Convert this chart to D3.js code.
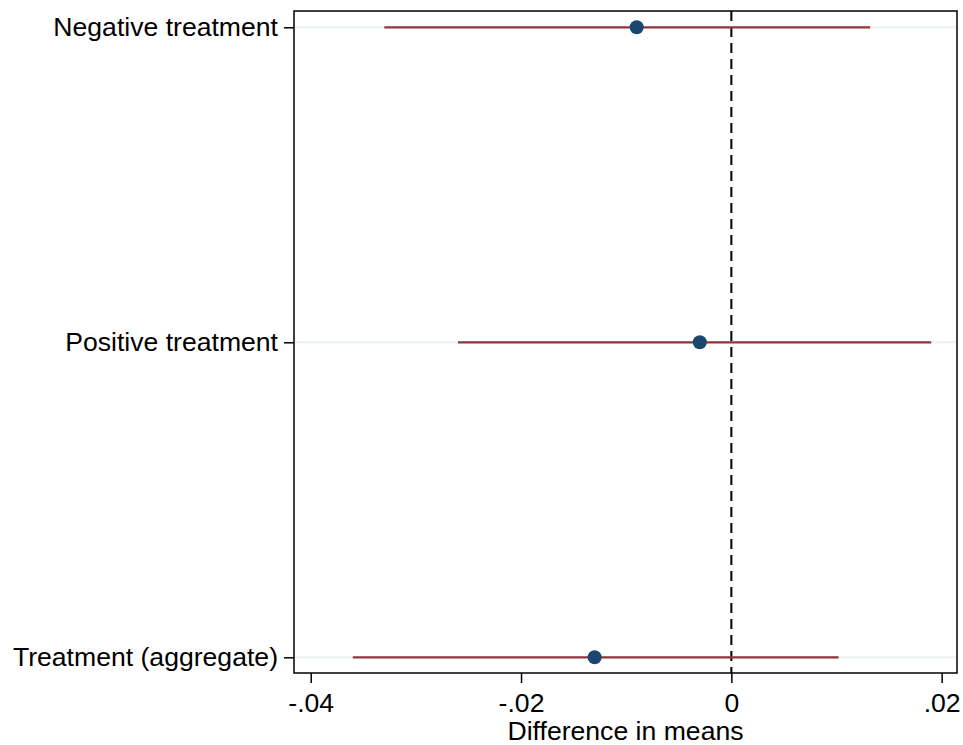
<!DOCTYPE html>
<html>
<head>
<meta charset="utf-8">
<script src="https://cdn.jsdelivr.net/npm/d3@7"></script>
<style>
  body { margin: 0; background: #fff; }
  text { font-family: "Liberation Sans", Arial, sans-serif; }
</style>
</head>
<body>
<script>
// categories and estimates, top to bottom
var categories = ["Negative treatment", "Positive treatment", "Treatment (aggregate)"];
var estimates = [-0.009, -0.003, -0.013];
var ciLow = [-0.033, -0.026, -0.036];
var ciHigh = [0.0132, 0.019, 0.0102];
var xTicks = [-0.04, -0.02, 0, 0.02];
var xTickLabels = ["-.04", "-.02", "0", ".02"];

var width = 963, height = 745;
var plot = {left: 294, right: 957, top: 11, bottom: 673};
var fontSize = 26.6;

var svg = d3.select("body").append("svg")
  .attr("width", width)
  .attr("height", height);

var x = d3.scaleLinear()
  .domain([-0.04159, 0.02146])
  .range([plot.left, plot.right]);

var y = d3.scalePoint()
  .domain(categories)
  .range([27.3, 657.3]);

var rows = categories.map(function(c, i) {
  return {cat: c, est: estimates[i], lo: ciLow[i], hi: ciHigh[i]};
});

// light gridlines at each row
svg.append("g").selectAll("line")
  .data(categories)
  .enter().append("line")
  .attr("x1", plot.left)
  .attr("x2", plot.right)
  .attr("y1", function(d) { return y(d); })
  .attr("y2", function(d) { return y(d); })
  .attr("stroke", "#eaf2f3")
  .attr("stroke-width", 2);

// reference line at zero
svg.append("line")
  .attr("x1", x(0)).attr("x2", x(0))
  .attr("y1", plot.top).attr("y2", plot.bottom)
  .attr("stroke", "black")
  .attr("stroke-width", 2)
  .attr("stroke-dasharray", "10,6");

// confidence intervals
svg.append("g").selectAll("line")
  .data(rows)
  .enter().append("line")
  .attr("x1", function(d) { return x(d.lo); })
  .attr("x2", function(d) { return x(d.hi); })
  .attr("y1", function(d) { return y(d.cat); })
  .attr("y2", function(d) { return y(d.cat); })
  .attr("stroke", "#90353b")
  .attr("stroke-width", 2.2);

// point estimates
svg.append("g").selectAll("circle")
  .data(rows)
  .enter().append("circle")
  .attr("cx", function(d) { return x(d.est); })
  .attr("cy", function(d) { return y(d.cat); })
  .attr("r", 7)
  .attr("fill", "#1a476f");

// frame
svg.append("rect")
  .attr("x", plot.left).attr("y", plot.top)
  .attr("width", plot.right - plot.left)
  .attr("height", plot.bottom - plot.top)
  .attr("fill", "none")
  .attr("stroke", "black")
  .attr("stroke-width", 1.5);

// x axis
var xAxis = d3.axisBottom(x)
  .tickValues(xTicks)
  .tickFormat(function(d, i) { return xTickLabels[i]; })
  .tickSize(10)
  .tickPadding(10);
var gx = svg.append("g")
  .attr("transform", "translate(0," + plot.bottom + ")")
  .call(xAxis);
gx.select(".domain").remove();
gx.selectAll("line").attr("stroke", "black").attr("stroke-width", 1.5);
gx.selectAll("text").attr("font-size", fontSize).attr("fill", "black")
  .style("font-family", "'Liberation Sans', Arial, sans-serif");

// y axis
var yAxis = d3.axisLeft(y).tickSize(10).tickPadding(6);
var gy = svg.append("g")
  .attr("transform", "translate(" + plot.left + ",0)")
  .call(yAxis);
gy.select(".domain").remove();
gy.selectAll("line").attr("stroke", "black").attr("stroke-width", 1.5);
gy.selectAll("text").attr("font-size", fontSize).attr("fill", "black")
  .style("font-family", "'Liberation Sans', Arial, sans-serif");

// axis title
svg.append("text")
  .attr("x", (plot.left + plot.right) / 2)
  .attr("y", 740)
  .attr("text-anchor", "middle")
  .attr("font-size", fontSize)
  .text("Difference in means");
</script>
</body>
</html>
